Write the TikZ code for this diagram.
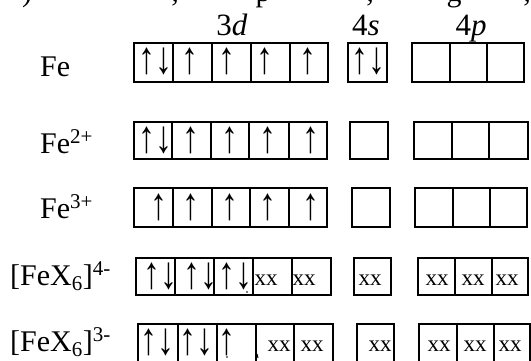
\documentclass[tikz,border=0pt]{standalone}
\usepackage{fontspec}
\setmainfont{Liberation Serif}
\newcommand\cellrow[3]{\foreach \a/\b in {#3} {\draw[cell] (\a,#1) rectangle (\b,#2);}}
\newcommand\up{\scalebox{1.3}[1.75]{↑}}
\newcommand\dn{\scalebox{1.3}[1.75]{↓}}
\begin{document}
\begin{tikzpicture}[x=1pt,y=-1pt,
  cell/.style={draw, line width=1.2pt},
  lbl/.style={anchor=base west, inner sep=0pt, font=\fontsize{30}{32}\selectfont},
  hd/.style={anchor=base, inner sep=0pt, font=\fontsize{31}{33}\selectfont},
  ar/.style={inner sep=0pt, font=\fontsize{26}{28}\selectfont},
  xs/.style={inner sep=0pt, font=\fontsize{23}{25}\selectfont},
  frag/.style={anchor=base, inner sep=0pt, font=\fontsize{30}{32}\selectfont},
]
\useasboundingbox (0,0) rectangle (531,360);
% cut-off fragments of the previous line
\node[frag] (f1) at (27,1) {)};
\node[frag] (f2) at (175,1) {,};
\node[frag] (f3) at (263,1) {p};
\node[frag] (f4) at (370,1) {,};
\node[frag] (f5) at (454,1) {g};
\node[frag] (f6) at (527,1) {,};
% headings
\node[hd] (h3d) at (232,35) {3\textit{d}};
\node[hd] (h4s) at (366,35) {4\textit{s}};
\node[hd] (h4p) at (471,35) {4\textit{p}};
% boxes
\cellrow{43}{82}{134/173,173/212,212/251,251/290,290/328,348/387,412/450,450/487,487/524}
\cellrow{122}{159}{134/172,172/211,211/249,249/289,289/327,350/388,414/452,452/489,489/528}
\cellrow{188}{227}{134/173,173/212,212/250,250/289,289/327,352/390,415/453,453/490,490/527}
\cellrow{258}{295}{136/175,175/214,214/253,253/292,292/331,354/391,418/455,455/492,492/528}
\cellrow{324}{364}{138/178,178/217,217/256,256/294,294/333,357/394,419/457,457/494,494/530}
% labels
\node[lbl] (l1) at (40,76) {Fe};
\node[lbl] (l2) at (40,153) {Fe\textsuperscript{2+}};
\node[lbl] (l3) at (40,218) {Fe\textsuperscript{3+}};
\node[lbl] (l4) at (10,285) {[FeX\textsubscript{6}]\textsuperscript{4-}};
\node[lbl] (l5) at (10,351) {[FeX\textsubscript{6}]\textsuperscript{3-}};
% row 1
\node[ar] (r1a) at (155,61) {\up\dn};
\node[ar] (r1b) at (190,61) {\up};
\node[ar] (r1c) at (227,61) {\up};
\node[ar] (r1d) at (265,61) {\up};
\node[ar] (r1e) at (308,61) {\up};
\node[ar] (r1s) at (368,61) {\up\dn};
% row 2
\node[ar] (r2a) at (155,140) {\up\dn};
\node[ar] (r2b) at (191,140) {\up};
\node[ar] (r2c) at (230,140) {\up};
\node[ar] (r2d) at (268,140) {\up};
\node[ar] (r2e) at (311,140) {\up};
% row 3
\node[ar] (r3a) at (159,207) {\up};
\node[ar] (r3b) at (191,207) {\up};
\node[ar] (r3c) at (230,207) {\up};
\node[ar] (r3d) at (268,207) {\up};
\node[ar] (r3e) at (311,207) {\up};
% row 4
\node[ar] (r4a) at (160,276) {\up\dn};
\node[ar] (r4b) at (200,276) {\up\dn};
\node[ar] (r4c) at (235,276) {\up\dn};
\fill (247,292) circle (0.9pt);
\node[xs] (r4d) at (266,280) {xx};
\node[xs] (r4e) at (304,280) {xx};
\node[xs] (r4s) at (370,280) {xx};
\node[xs] (r4p1) at (437,280) {xx};
\node[xs] (r4p2) at (473,280) {xx};
\node[xs] (r4p3) at (507,280) {xx};
% row 5
\node[ar] (r5a) at (157,342) {\up\dn};
\node[ar] (r5b) at (196,342) {\up\dn};
\node[ar] (r5c) at (227,342) {\up};
\fill (227,357) circle (0.9pt);
\draw[line width=1pt] (257,354) -- (258,358);
\node[xs] (r5d) at (279,346) {xx};
\node[xs] (r5e) at (312,346) {xx};
\node[xs] (r5s) at (380,346) {xx};
\node[xs] (r5p1) at (439,346) {xx};
\node[xs] (r5p2) at (475,346) {xx};
\node[xs] (r5p3) at (510,346) {xx};
\end{tikzpicture}
\end{document}
